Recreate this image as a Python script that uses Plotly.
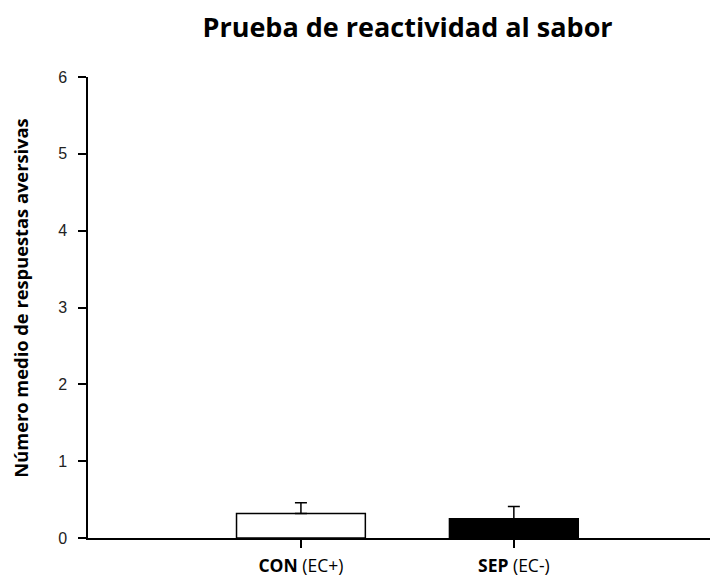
import plotly.graph_objects as go

categories = ["<b>CON</b> (EC+)", "<b>SEP</b> (EC-)"]
means = [0.32, 0.25]
errors = [0.14, 0.16]
fill_colors = ["white", "black"]
y_ticks = [0, 1, 2, 3, 4, 5, 6]
y_title = "<b>Número medio de respuestas aversivas</b>"

x_pos = list(range(len(categories)))

fig = go.Figure()
fig.add_trace(go.Bar(
    x=x_pos, y=means, width=0.605,
    marker=dict(color=fill_colors, line=dict(color="black", width=1.5)),
    error_y=dict(type="data", array=errors, arrayminus=[0, 0], symmetric=False,
                 color="black", thickness=1.5, width=6),
    showlegend=False,
))

fig.add_annotation(
    text=y_title, textangle=-90, xref="paper", yref="paper",
    x=-0.108, y=0.52, xanchor="center", yanchor="middle", showarrow=False,
    font=dict(family="Open Sans", size=18.3, color="black"),
)

fig.update_layout(
    width=710, height=570,
    paper_bgcolor="white", plot_bgcolor="white",
    margin=dict(l=80, r=4, t=69, b=40, autoexpand=False),
    title=dict(text="<b>Prueba de reactividad al sabor</b>", x=0.5627, xanchor="center",
               y=0.966, yanchor="middle",
               font=dict(family="Open Sans", size=27, color="black")),
    xaxis=dict(range=[-1.0, 1.94], tickmode="array", tickvals=x_pos, ticktext=categories,
               showline=True, linecolor="black", linewidth=1.5, ticks="outside",
               ticklen=8, tickcolor="black", tickwidth=1.5, showgrid=False, zeroline=False,
               ticklabelstandoff=3, automargin=False,
               tickfont=dict(family="Open Sans", size=17.5, color="black")),
    yaxis=dict(range=[0, 6], tickvals=y_ticks, showline=True, linecolor="black", linewidth=1.5,
               ticks="outside", ticklen=8, tickcolor="black", tickwidth=1.5,
               showgrid=False, zeroline=False, ticklabelstandoff=8, automargin=False,
               tickfont=dict(family="Arial", size=16, color="#222")),
)

fig.write_html("out.html")
